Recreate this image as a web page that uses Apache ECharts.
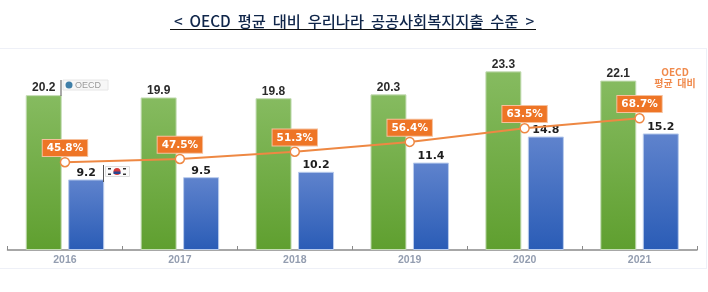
<!DOCTYPE html>
<html>
<head>
<meta charset="utf-8">
<style>
  html, body { margin: 0; padding: 0; background: #fff; }
  #chart { width: 708px; height: 292px; }
</style>
<script src="https://cdn.jsdelivr.net/npm/echarts@6/dist/echarts.min.js"></script>
</head>
<body>
<div id="chart"></div>
<script>
var years = ["2016", "2017", "2018", "2019", "2020", "2021"];
var oecdValues = [20.2, 19.9, 19.8, 20.3, 23.3, 22.1];
var koreaValues = [9.2, 9.5, 10.2, 11.4, 14.8, 15.2];
var ratioValues = [45.8, 47.5, 51.3, 56.4, 63.5, 68.7];

var titleText = "<  OECD  평균  대비  우리나라  공공사회복지지출  수준  >";
var sideNote = "OECD\n평균  대비";

function vGrad(top, bottom) {
  return new echarts.graphic.LinearGradient(0, 0, 0, 1, [
    { offset: 0, color: top },
    { offset: 1, color: bottom },
  ]);
}

var myChart = echarts.init(document.getElementById("chart"), null, { renderer: "canvas" });

var option = {
  animation: false,
  backgroundColor: "#fff",
  title: {
    text: titleText,
    left: "center",
    top: 14,
    padding: 0,
    textStyle: {
      fontFamily: "Noto Sans CJK KR",
      fontSize: 15.3,
      fontWeight: 500,
      color: "#10264a",
    },
  },
  grid: { left: 7.5, right: 11, top: 20, bottom: 42 },
  xAxis: {
    type: "category",
    data: years,
    axisLine: { lineStyle: { color: "#8a8a8a", width: 1.5 } },
    axisTick: { show: true, inside: true, length: 4, lineStyle: { color: "#8a8a8a" } },
    axisLabel: {
      margin: 5,
      fontFamily: "Liberation Sans",
      fontSize: 10.5,
      fontWeight: "bold",
      color: "#939db0",
    },
  },
  yAxis: [
    { type: "value", min: 0, max: 30, show: false },
    // 오른쪽 축은 숨김, 비율 선만 사용
    { type: "value", min: 0, max: 120, show: false },
  ],
  series: [
    {
      name: "OECD",
      type: "bar",
      data: oecdValues,
      barWidth: 36,
      barGap: "18%",
      itemStyle: {
        color: vGrad("#86bb60", "#5f9f2f"),
        borderColor: "#c4dcb4",
        borderWidth: 1,
      },
      label: {
        show: true,
        position: "top",
        distance: 1,
        fontFamily: "Liberation Sans",
        fontSize: 12,
        fontWeight: "bold",
        color: "#2b2b2b",
        formatter: function (p) { return p.value.toFixed(1); },
      },
    },
    {
      name: "우리나라",
      type: "bar",
      data: koreaValues,
      barWidth: 36,
      itemStyle: {
        color: vGrad("#5f83cd", "#2a5cb6"),
        borderColor: "#b8cbec",
        borderWidth: 1,
      },
      label: {
        show: true,
        position: "top",
        distance: 1,
        fontFamily: "DejaVu Sans",
        fontSize: 11,
        fontWeight: "bold",
        color: "#1e1e1e",
        formatter: function (p) { return p.value.toFixed(1); },
      },
    },
    {
      name: "OECD 평균 대비",
      type: "line",
      yAxisIndex: 1,
      data: ratioValues,
      z: 5,
      symbol: "circle",
      symbolSize: 9,
      lineStyle: { color: "#ee8843", width: 2 },
      itemStyle: { color: "#fff", borderColor: "#ee8843", borderWidth: 1.5 },
      label: {
        show: true,
        position: "top",
        distance: 1,
        fontFamily: "DejaVu Sans",
        fontSize: 10.5,
        fontWeight: "bold",
        color: "#fff",
        backgroundColor: "#ee7526",
        borderColor: "#f6c09c",
        borderWidth: 1,
        padding: [3, 4, 2, 4],
        formatter: function (p) { return p.value.toFixed(1) + "%"; },
      },
    },
  ],
  graphic: [
    // 제목 밑줄, 바깥 테두리
    { type: "rect", silent: true, shape: { x: 170, y: 29, width: 366, height: 1 }, style: { fill: "#111" } },
    { type: "rect", silent: true, shape: { x: 0, y: 48, width: 706, height: 1 }, style: { fill: "#eef0f7" } },
    { type: "rect", silent: true, shape: { x: 0, y: 268, width: 706, height: 1 }, style: { fill: "#eef0f7" } },
    { type: "rect", silent: true, shape: { x: 706, y: 48, width: 1, height: 221 }, style: { fill: "#eef0f7" } },
    // 오른쪽 범례 글자
    {
      type: "text",
      silent: true,
      x: 675,
      y: 66,
      style: {
        text: sideNote,
        align: "center",
        fill: "#f08a4c",
        font: "bold 10px 'Noto Sans CJK KR'",
        lineHeight: 11.5,
      },
    },
    // OECD 로고
    { type: "rect", silent: true, z: 6, shape: { x: 60.5, y: 80, width: 1, height: 16 }, style: { fill: "#555" } },
    { type: "rect", silent: true, z: 6, shape: { x: 63, y: 80, width: 45, height: 10 }, style: { fill: "#f7f7f7", stroke: "#e6e6e6", lineWidth: 1 } },
    { type: "circle", silent: true, z: 6, shape: { cx: 69, cy: 85, r: 3.5 }, style: { fill: "#3f7fa8" } },
    {
      type: "text",
      silent: true,
      z: 6,
      x: 75,
      y: 81,
      style: { text: "OECD", fill: "#9a9a9a", font: "9px 'Liberation Sans'" },
    },
    // 태극기
    { type: "rect", silent: true, z: 6, shape: { x: 103, y: 165, width: 1, height: 17 }, style: { fill: "#555" } },
    { type: "rect", silent: true, z: 6, shape: { x: 105.5, y: 166.5, width: 24, height: 10 }, style: { fill: "#fbfbfb", stroke: "#dddddd", lineWidth: 1 } },
    { type: "circle", silent: true, z: 6, shape: { cx: 117, cy: 171.5, r: 3.5 }, style: { fill: "#d33a3a" } },
    { type: "rect", silent: true, z: 6, shape: { x: 113.5, y: 171.5, width: 7, height: 2.5 }, style: { fill: "#27458f" } },
    { type: "rect", silent: true, z: 6, shape: { x: 108, y: 168, width: 3, height: 1.5 }, style: { fill: "#333" } },
    { type: "rect", silent: true, z: 6, shape: { x: 108, y: 173.5, width: 3, height: 1.5 }, style: { fill: "#333" } },
    { type: "rect", silent: true, z: 6, shape: { x: 123, y: 168, width: 3, height: 1.5 }, style: { fill: "#333" } },
    { type: "rect", silent: true, z: 6, shape: { x: 123, y: 173.5, width: 3, height: 1.5 }, style: { fill: "#333" } },
  ],
};

myChart.setOption(option);
window.addEventListener("resize", function () {
  myChart.resize();
});
</script>
</body>
</html>
